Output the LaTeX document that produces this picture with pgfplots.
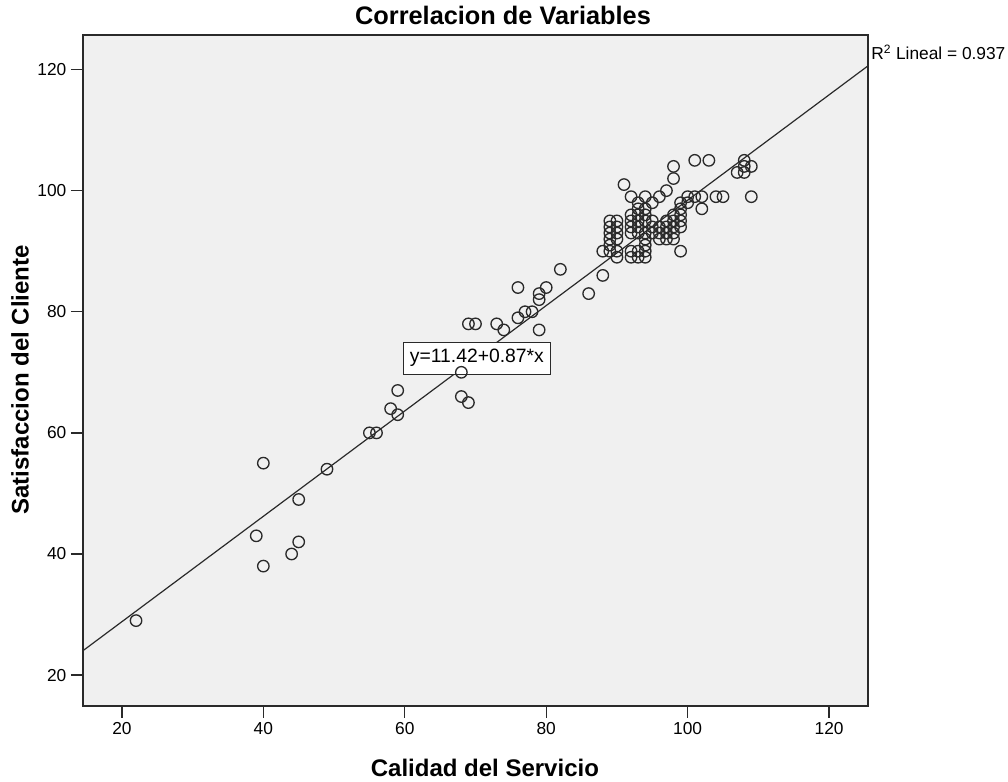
\documentclass[border=0pt]{standalone}
\usepackage{pgfplots}
\pgfplotsset{compat=1.18}
\usepackage{pgfplotstable}
\usepackage{fontspec}
\setmainfont{Liberation Sans}
\definecolor{bg}{HTML}{F0F0F0}
\definecolor{ink}{HTML}{2A2A2A}

\pgfplotstableread{
x y
22 29
39 43
40 55
40 38
44 40
45 49
45 42
49 54
55 60
56 60
58 64
59 67
59 63
68 66
69 65
68 70
69 78
70 78
73 78
74 77
76 79
77 80
78 80
79 83
79 82
79 77
76 84
80 84
82 87
86 83
88 86
88 90
89 90
89 91
90 89
89 95
89 94
89 93
90 95
90 94
90 93
89 92
90 92
90 90
91 101
92 99
92 96
92 95
92 94
92 93
92 90
92 89
93 98
93 97
93 96
93 95
93 94
93 93
93 90
93 89
94 99
94 97
94 96
94 95
94 93
94 92
94 91
94 90
94 89
95 98
95 95
95 94
95 93
96 99
96 94
96 93
96 92
97 100
97 95
97 94
97 93
97 92
98 104
98 102
98 96
98 95
98 94
98 93
98 92
99 98
99 97
99 96
99 95
99 94
99 90
100 99
100 98
101 105
101 99
102 99
102 97
103 105
104 99
105 99
107 103
108 105
108 104
108 103
109 104
109 99
}\datatable

\begin{document}
\begin{tikzpicture}
\useasboundingbox (-62.25pt,-57pt) rectangle (693.75pt,529.5pt);
\begin{axis}[
  at={(0,0)}, anchor=south west,
  scale only axis, width=588.75pt, height=503.25pt,
  xmin=14.5, xmax=125.5, ymin=14.9, ymax=125.7,
  axis background/.style={fill=bg},
  axis line style={ink, line width=1.3pt},
  xtick={20,40,...,120}, ytick={20,40,...,120},
  tick align=outside, major tick length=9pt,
  xtick pos=bottom, ytick pos=left,
  tick style={ink, line width=1pt},
  ticklabel style={font=\fontsize{13}{15}\selectfont},
  /pgf/number format/assume math mode=true,
  xlabel={Calidad del Servicio}, ylabel={Satisfaccion del Cliente},
  xlabel style={at={(axis description cs:0.512,-0.1058)}, anchor=base, font=\bfseries\fontsize{18}{20}\selectfont},
  ylabel style={at={(axis description cs:-0.0803,0.486)}, anchor=center, font=\bfseries\fontsize{18}{20}\selectfont},
]
\addplot[only marks, mark=o, mark size=4.3pt, mark options={ink, line width=1pt}] table[x=x,y=y] {\datatable};
\addplot[ink, line width=0.9pt] coordinates {(14.5,24.035) (125.5,120.605)};
\node[draw=ink, fill=white, line width=0.8pt, font=\fontsize{14.5}{16}\selectfont, inner xsep=5pt, minimum height=24pt] at (axis cs:70.2,72.35) {y=11.42+0.87*x};
\end{axis}
\node[anchor=west, font=\fontsize{13}{15}\selectfont, inner sep=0pt] at (591pt,490.5pt) {R\textsuperscript{2} Lineal = 0.937};
\node[font=\bfseries\fontsize{19}{21}\selectfont] at (315pt,518.25pt) {Correlacion de Variables};
\end{tikzpicture}
\end{document}
